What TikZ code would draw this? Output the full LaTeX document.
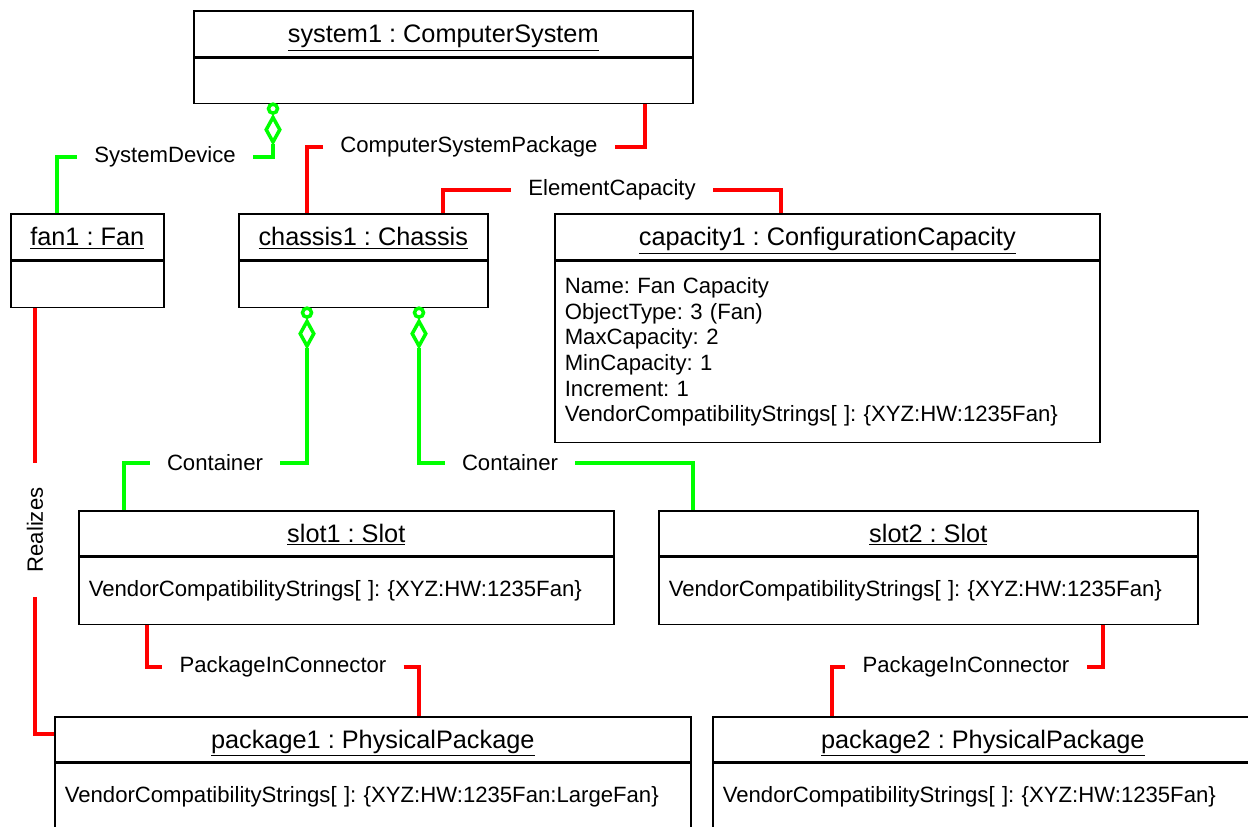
\documentclass[tikz,border=0pt]{standalone}
\usepackage{fontspec}
\setmainfont{Liberation Sans}
\usetikzlibrary{positioning,calc,shapes.geometric}
\frenchspacing
\definecolor{assocgrn}{RGB}{0,255,0}
\definecolor{assocred}{RGB}{255,0,0}
\tikzset{
  objhd/.style={draw, line width=0.9pt, anchor=north west, inner sep=0pt,
                text height=10pt, text depth=0pt, font=\fontsize{14.4}{17}\selectfont},
  objbd/.style={draw, line width=0.9pt, anchor=north west, inner xsep=0.2cm, inner ysep=0pt,
                align=left, font=\fontsize{12.6}{14.6}\selectfont},
  assoclab/.style={inner xsep=0.34cm, inner ysep=0pt, font=\fontsize{12.6}{15}\selectfont},
  grnln/.style={assocgrn, line width=2.3pt},
  redln/.style={assocred, line width=2.3pt},
  aggc/.style={circle, draw=assocgrn, line width=2pt, inner sep=0pt, minimum size=0.18cm},
  aggd/.style={diamond, draw=assocgrn, line width=2pt, inner sep=0pt,
               minimum width=0.3cm, minimum height=0.52cm},
}

\begin{document}
\begin{tikzpicture}[x=0.02cm, y=-0.02cm]
  \useasboundingbox (0,0) rectangle (1248,826);
  \clip (0,0) rectangle (1248,826);

  % object boxes: name/x/y/width/head/body/title/attributes
  \foreach \n/\x/\y/\w/\hh/\bh/\ttl/\attr in {
      sys/193/10/499/46/45/{system1 : ComputerSystem}/{},
      fan/10/213/153/46/46/{fan1 : Fan}/{},
      chas/238/213/249/46/46/{chassis1 : Chassis}/{},
      cap/554/213/545/46/181/{capacity1 : ConfigurationCapacity}/{Name: Fan Capacity\\ObjectType: 3 (Fan)\\MaxCapacity: 2\\MinCapacity: 1\\Increment: 1\\VendorCompatibilityStrings[ ]: \{XYZ:HW:1235Fan\}},
      slot1/78/510/535/45/67/{slot1 : Slot}/{VendorCompatibilityStrings[ ]: \{XYZ:HW:1235Fan\}},
      slot2/658/510/539/45/67/{slot2 : Slot}/{VendorCompatibilityStrings[ ]: \{XYZ:HW:1235Fan\}},
      pkg1/54/716/636/45/67/{package1 : PhysicalPackage}/{VendorCompatibilityStrings[ ]: \{XYZ:HW:1235Fan:LargeFan\}},
      pkg2/712/716/540/45/67/{package2 : PhysicalPackage}/{VendorCompatibilityStrings[ ]: \{XYZ:HW:1235Fan\}}}{
    \pgfmathsetmacro\bw{\w*0.02}
    \pgfmathsetmacro\tw{(\w-20)*0.02}
    \pgfmathsetmacro\hhh{\hh*0.02}
    \pgfmathsetmacro\bhh{\bh*0.02}
    \node[objhd, minimum width=\bw cm, minimum height=\hhh cm] (\n-hd) at (\x,\y) {\underline{\ttl}};
    \node[objbd, minimum width=\bw cm, minimum height=\bhh cm, text width=\tw cm] (\n-bd) at (\n-hd.south west) {\attr};
  }

  % aggregation ends
  \node[aggc] (sysc) at ($(sys-bd.south west)+(80,4.5)$) {};
  \node[aggd, below=0pt of sysc] (sysd) {};
  \node[aggc] (chc1) at ($(chas-bd.south west)+(69,4.5)$) {};
  \node[aggd, below=0pt of chc1] (chd1) {};
  \node[aggc] (chc2) at ($(chas-bd.south west)+(181,4.5)$) {};
  \node[aggd, below=0pt of chc2] (chd2) {};

  % association names
  \node[assoclab] (sdlab) at (165,157) {SystemDevice};
  \node[assoclab] (csplab) at (469,147) {ComputerSystemPackage};
  \node[assoclab] (eclab) at (612,190) {ElementCapacity};
  \node[assoclab] (ct1lab) at (215,463) {Container};
  \node[assoclab] (ct2lab) at (510,463) {Container};
  \node[assoclab] (pic1lab) at (283,667) {PackageInConnector};
  \node[assoclab] (pic2lab) at (966,667) {PackageInConnector};
  \node[assoclab, rotate=90, inner xsep=0.48cm] (rzlab) at (35,530) {Realizes};

  % SystemDevice
  \draw[grnln] (sysd.south) |- (sdlab.east);
  \draw[grnln] (sdlab.west) -| ($(fan-hd.north west)+(47,0)$);
  % ComputerSystemPackage
  \draw[redln] ($(sys-bd.south west)+(452,0)$) |- (csplab.east);
  \draw[redln] (csplab.west) -| ($(chas-hd.north west)+(69,0)$);
  % ElementCapacity
  \draw[redln] ($(chas-hd.north west)+(205,0)$) |- (eclab.west);
  \draw[redln] (eclab.east) -| ($(cap-hd.north west)+(227,0)$);
  % Container
  \draw[grnln] (chd1.south) |- (ct1lab.east);
  \draw[grnln] (ct1lab.west) -| ($(slot1-hd.north west)+(46,0)$);
  \draw[grnln] (chd2.south) |- (ct2lab.west);
  \draw[grnln] (ct2lab.east) -| ($(slot2-hd.north west)+(35,0)$);
  % PackageInConnector
  \draw[redln] ($(slot1-bd.south west)+(69,0)$) |- (pic1lab.west);
  \draw[redln] (pic1lab.east) -| ($(pkg1-hd.north west)+(365,0)$);
  \draw[redln] ($(slot2-bd.south west)+(445,0)$) |- (pic2lab.east);
  \draw[redln] (pic2lab.west) -| ($(pkg2-hd.north west)+(120,0)$);
  % Realizes
  \draw[redln] ($(fan-bd.south west)+(25,0)$) -- (rzlab.east);
  \draw[redln] (rzlab.west) |- ($(pkg1-hd.north west)+(0,18)$);
\end{tikzpicture}
\end{document}
